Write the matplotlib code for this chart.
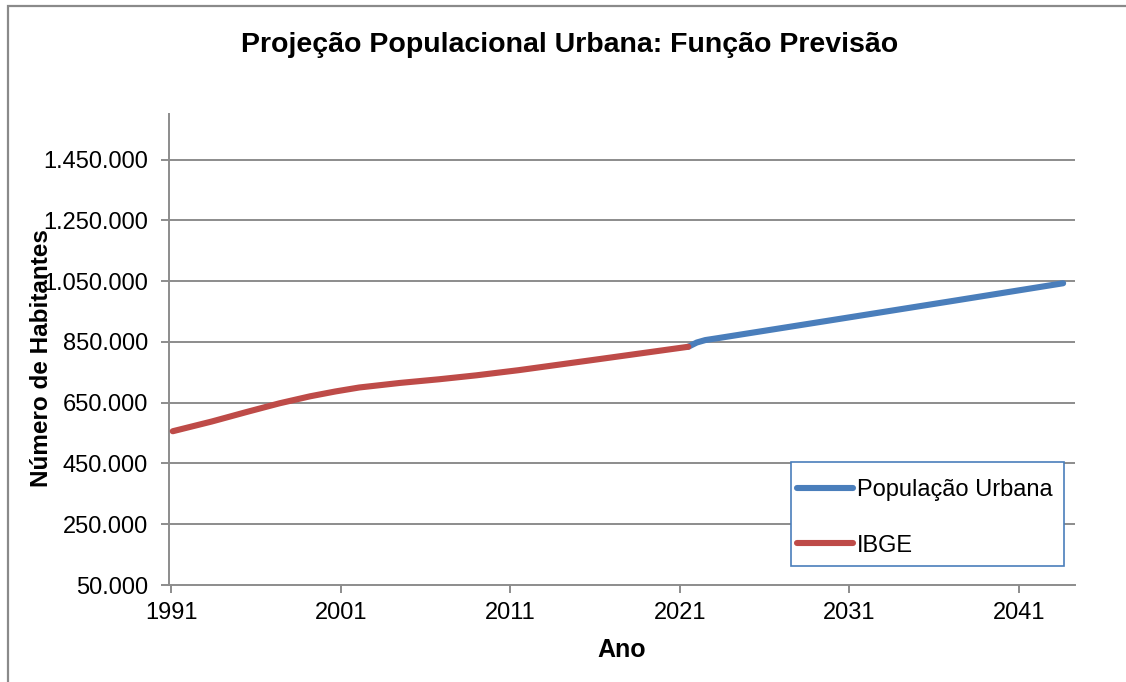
import numpy as np
import matplotlib
matplotlib.use("Agg")
import matplotlib.pyplot as plt
from matplotlib.patches import Rectangle
from matplotlib.ticker import FuncFormatter

plt.rcParams['font.family'] = ['Liberation Sans', 'DejaVu Sans']

# data
ibge_years = [1991.1, 1993.4, 1995.5, 1997.4, 1999.2, 2000.7, 2002.1, 2004.5,
              2006.8, 2009.0, 2011.5, 2016.2, 2021.5]
ibge_pop = [556000, 588000, 620000, 648000, 671000, 687000, 700000, 715000,
            727000, 740000, 757000, 793000, 834000]

urb_years = [2021.5, 2022.0, 2022.5, 2023.2, 2030.0, 2037.0, 2043.6]
urb_pop = [834000, 848000, 856000, 862000, 922000, 984000, 1043000]

year_ticks = [1991, 2001, 2011, 2021, 2031, 2041]
pop_ticks = [50000, 250000, 450000, 650000, 850000, 1050000, 1250000, 1450000]

title = "Projeção Populacional Urbana: Função Previsão"

W, H = 1126, 682
fig = plt.figure(figsize=(W / 100, H / 100), dpi=100)

# outer chart border (runs off the right and bottom edge)
fig.patches.append(Rectangle((8 / W, -0.1), 1.2, 1.1 - 6 / H, transform=fig.transFigure,
                             fill=False, edgecolor='#8a8a8a', linewidth=1.6))

ax = fig.add_axes([169 / W, (H - 585) / H, (1075 - 169) / W, (585 - 114) / H])

blue = '#4a7ebb'
red = '#be4b48'
ax.plot(urb_years, urb_pop, color=blue, linewidth=4.4, solid_capstyle='round',
        label='População Urbana', zorder=3)
ax.plot(ibge_years, ibge_pop, color=red, linewidth=4.4, solid_capstyle='round',
        label='IBGE', zorder=3)

ax.set_xlim(1991 - 0.12, 2044.3)
ax.set_ylim(50000, 1600000)
ax.set_xticks(year_ticks)
ax.set_xticklabels([str(y) for y in year_ticks])
ax.set_yticks(pop_ticks)
ax.yaxis.set_major_formatter(FuncFormatter(lambda v, p: f"{v:,.0f}".replace(",", ".")))

for y in pop_ticks[1:]:
    ax.axhline(y, color='#8c8c8c', linewidth=1.4, zorder=1)

for s in ['top', 'right']:
    ax.spines[s].set_visible(False)
for s in ['left', 'bottom']:
    ax.spines[s].set_color('#8c8c8c')
    ax.spines[s].set_linewidth(1.4)

ax.tick_params(axis='both', colors='#8c8c8c', labelcolor='black', labelsize=17,
               length=6, width=1.4)
ax.tick_params(axis='y', pad=9)
ax.tick_params(axis='x', pad=6)

fig.text(570 / W, 1 - 45 / H, title, ha='center', va='center',
         fontsize=20.5, fontweight='bold')
fig.text(622 / W, 1 - 650 / H, 'Ano', ha='center', va='center',
         fontsize=18, fontweight='bold')
fig.text(42 / W, 1 - 358 / H, 'Número de Habitantes', ha='center', va='center',
         rotation=90, fontsize=17.5, fontweight='bold')

# legend box drawn separately so the padding can match
ax.add_patch(Rectangle((791 / W, 1 - 566 / H), (1064 - 791) / W, (566 - 462) / H,
                       transform=fig.transFigure, fill=True, facecolor='white',
                       edgecolor=blue, linewidth=1.2, zorder=4, clip_on=False))
leg = ax.legend(loc='upper left', bbox_to_anchor=(797 / W, 1 - 479 / H),
                bbox_transform=fig.transFigure, fontsize=17, frameon=False,
                handlelength=2.37, handletextpad=0.17,
                labelspacing=1.42, borderpad=0, borderaxespad=0)
leg.set_zorder(5)

fig.savefig('out.png', dpi=100)
